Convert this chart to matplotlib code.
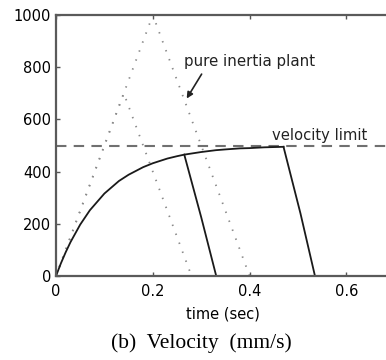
import matplotlib
matplotlib.use("Agg")
import matplotlib.pyplot as plt

# dotted triangles (pure inertia plant)
t_fast = [0, 0.14, 0.28, 0.69]
v_fast = [0, 700, 0, 0]
t_slow = [0, 0.2, 0.4, 0.69]
v_slow = [0, 1000, 0, 0]

# solid curves: rise toward the limit, then stop
t_rise = [0, 0.01, 0.02, 0.03, 0.05, 0.07, 0.1, 0.13, 0.15, 0.18, 0.2, 0.23, 0.25, 0.265]
v_rise = [0, 48, 91, 130, 197, 252, 316, 364, 388, 417, 432, 450, 459, 465]
t_rise2 = [0.3, 0.33, 0.35, 0.38, 0.4, 0.43, 0.45, 0.47]
v_rise2 = [475, 482, 485, 489, 490, 493, 494, 495]
t_stop1 = [0.265, 0.30, 0.331, 0.69]
v_stop1 = [465, 225, 0, 0]
t_stop2 = [0.47, 0.505, 0.535, 0.69]
v_stop2 = [495, 240, 0, 0]

v_limit = 500

plt.rcParams['font.family'] = ['DejaVu Sans']
fig = plt.figure(figsize=(3.86, 3.6), dpi=100)
ax = fig.add_axes([56/386, 84/360, 334/386, 261/360])

dot = dict(color='#8a8a8a', lw=1.3, ls=(0, (0.8, 4.5)))
ax.plot(t_fast, v_fast, **dot)
ax.plot(t_slow, v_slow, **dot)
ax.axhline(v_limit, color='#707070', lw=1.5, dashes=(5, 3.5))

sol = dict(color='#1a1a1a', lw=1.3)
ax.plot(t_rise + t_rise2, v_rise + v_rise2, **sol)
ax.plot(t_stop1, v_stop1, **sol)
ax.plot(t_stop2, v_stop2, **sol)

ax.annotate('pure inertia plant', xy=(0.27, 680), xytext=(0.264, 822),
            fontsize=10.8, color='#222222', va='center', ha='left',
            arrowprops=dict(arrowstyle='-|>', color='#222222', lw=1.2,
                            mutation_scale=9, shrinkA=2, shrinkB=0,
                            relpos=(0.16, 0.0)))
ax.text(0.446, 510, 'velocity limit', fontsize=10.6, color='#222222',
        va='bottom', ha='left')

ax.set_xlim(0, 0.69)
ax.set_ylim(0, 1000)
ax.set_xticks([0, 0.2, 0.4, 0.6])
ax.set_xticklabels(['0', '0.2', '0.4', '0.6'])
ax.set_yticks([0, 200, 400, 600, 800, 1000])
ax.tick_params(direction='in', length=3, width=1, color='#555555',
               labelsize=10.5, top=True)
ax.tick_params(axis='x', pad=6)
for s in ax.spines.values():
    s.set_color('#5a5a5a')
    s.set_linewidth(1.6)
ax.set_xlabel('time (sec)', fontsize=10.5, labelpad=5)

fig.text(201/386, 1 - 343/360, '(b)  Velocity  (mm/s)', ha='center',
         va='center', fontsize=15.5, family='Liberation Serif')

fig.savefig('out.png', dpi=100)
